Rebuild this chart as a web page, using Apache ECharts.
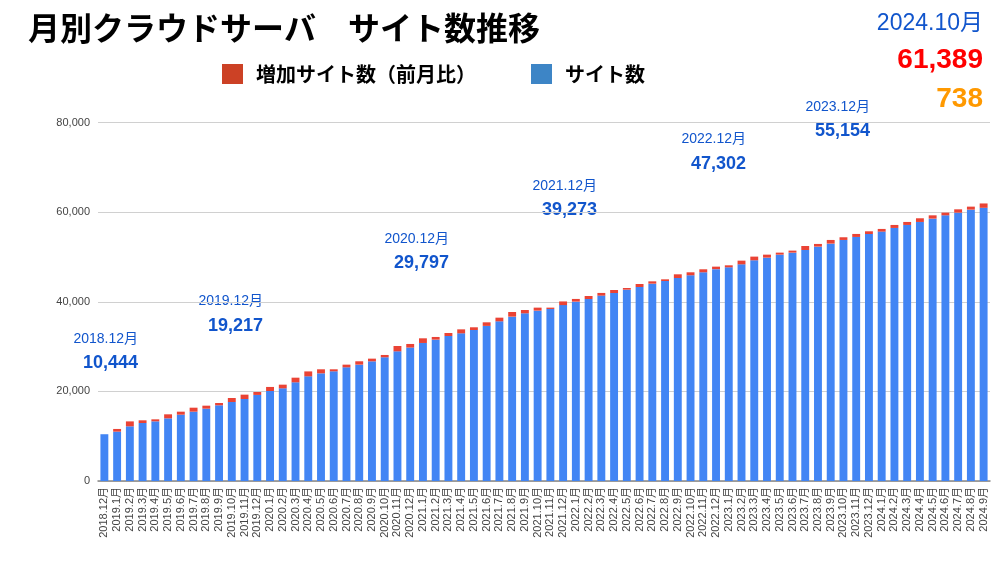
<!DOCTYPE html>
<html>
<head>
<meta charset="utf-8">
<script src="https://cdn.jsdelivr.net/npm/echarts@6/dist/echarts.min.js"></script>
<style>
html,body{margin:0;padding:0;background:#fff;}
#c{width:1007px;height:567px;}
</style>
</head>
<body>
<div id="c"></div>
<script>
const categories = ["2018.12月",
"2019.1月","2019.2月","2019.3月","2019.4月","2019.5月","2019.6月","2019.7月","2019.8月","2019.9月","2019.10月","2019.11月","2019.12月",
"2020.1月","2020.2月","2020.3月","2020.4月","2020.5月","2020.6月","2020.7月","2020.8月","2020.9月","2020.10月","2020.11月","2020.12月",
"2021.1月","2021.2月","2021.3月","2021.4月","2021.5月","2021.6月","2021.7月","2021.8月","2021.9月","2021.10月","2021.11月","2021.12月",
"2022.1月","2022.2月","2022.3月","2022.4月","2022.5月","2022.6月","2022.7月","2022.8月","2022.9月","2022.10月","2022.11月","2022.12月",
"2023.1月","2023.2月","2023.3月","2023.4月","2023.5月","2023.6月","2023.7月","2023.8月","2023.9月","2023.10月","2023.11月","2023.12月",
"2024.1月","2024.2月","2024.3月","2024.4月","2024.5月","2024.6月","2024.7月","2024.8月","2024.9月"];

const siteCount = [10444,
11020,12210,12950,13320,13990,14810,15480,16150,16900,17640,18310,19217,
20100,20690,22030,23370,24040,24490,25380,25980,26720,27620,28950,29797,
30820,31560,32380,32970,33720,34630,35650,36700,37440,38040,38410,39273,
40050,40640,41390,41980,42720,43320,44060,44660,45330,45930,46600,47302,
47710,48380,49280,49870,50540,50990,51580,52330,53000,53820,54490,55154,
55680,56500,57170,57840,58580,59320,59920,60590,61000];

const increase = [0,
600,1100,600,450,900,670,890,670,520,890,970,650,
900,820,1040,1100,900,450,600,750,600,520,1190,800,
1040,600,670,890,600,800,820,1040,740,670,300,820,
600,670,600,670,370,670,520,370,820,670,670,560,
450,820,820,670,450,450,890,600,820,600,670,600,
600,670,670,820,740,600,740,670,970];

const yTicks = [0, 20000, 40000, 60000, 80000];

const titleText = "月別クラウドサーバ　サイト数推移";
const seriesNames = ["増加サイト数（前月比）", "サイト数"];
const latestMonth = "2024.10月";
const latestCount = "61,389";
const latestIncrease = "738";

const yearMarks = ["2018.12月","2019.12月","2020.12月","2021.12月","2022.12月","2023.12月"];
const yearValues = ["10,444","19,217","29,797","39,273","47,302","55,154"];
// annotation placement (pixels): right edge, label y, value y
const annoRight = [138, 263, 449, 597, 746, 870];
const annoLabelY = [340, 302, 240, 187, 140, 108];
const annoValueY = [363, 326, 263, 210, 164, 131];

const FONT = '"Liberation Sans", Arial, "Noto Sans CJK JP", sans-serif';
const JFONT = '"Noto Sans CJK JP", "Liberation Sans", sans-serif';

const graphics = [];
for (let k = 0; k < yearMarks.length; k++) {
  graphics.push({type:'text', right: 1007 - annoRight[k], top: annoLabelY[k] - 8,
    style:{text: yearMarks[k], font: '14px ' + FONT, fill:'#1155cc', textAlign:'right'}});
  graphics.push({type:'text', right: 1007 - annoRight[k], top: annoValueY[k] - 9,
    style:{text: yearValues[k], font: 'bold 18px ' + FONT, fill:'#1155cc', textAlign:'right'}});
}
graphics.push({type:'text', right: 24, top: 12,
  style:{text: latestMonth, font: '23px ' + FONT, fill:'#1155cc'}});
graphics.push({type:'text', right: 24, top: 46,
  style:{text: latestCount, font: 'bold 28px ' + FONT, fill:'#ff0000'}});
graphics.push({type:'text', right: 24, top: 85,
  style:{text: latestIncrease, font: 'bold 28px ' + FONT, fill:'#ff9900'}});

const chart = echarts.init(document.getElementById('c'));
chart.setOption({
  backgroundColor:'#ffffff',
  animation:false,
  title:{text: titleText, left: 23, top: 7,
    textStyle:{fontFamily: JFONT, fontSize: 32, fontWeight: 'bold', color:'#000'}},
  legend:{
    left: 217, top: 59, itemWidth: 21, itemHeight: 20, itemGap: 55,
    textStyle:{fontFamily: JFONT, fontSize: 20, fontWeight:'bold', color:'#000', padding:[0,0,0,8]},
    data:[
      {name: seriesNames[0], icon:'rect', itemStyle:{color:'#cc4125'}},
      {name: seriesNames[1], icon:'rect', itemStyle:{color:'#3d85c6'}}
    ]
  },
  graphic: graphics,
  grid:{left: 98, right: 17, top: 122.7, bottom: 86, containLabel:false},
  xAxis:{
    type:'category', data: categories,
    axisTick:{show:false},
    axisLine:{lineStyle:{color:'#888', width:1.5}},
    axisLabel:{rotate:90, interval:0, fontSize:11, color:'#444', fontFamily: FONT, margin:6}
  },
  yAxis:{
    type:'value', min: yTicks[0], max: yTicks[yTicks.length-1], interval: 20000,
    axisLine:{show:false}, axisTick:{show:false},
    splitLine:{lineStyle:{color:'#d0d0d0'}},
    axisLabel:{fontSize:11, color:'#444', fontFamily: FONT, margin:8,
      formatter: v => v.toLocaleString('en-US')}
  },
  series:[
    {name: seriesNames[1], type:'bar', stack:'s', data: siteCount, barCategoryGap:'38%',
      itemStyle:{color:'#4285f4'}},
    {name: seriesNames[0], type:'bar', stack:'s', data: increase, barCategoryGap:'38%',
      itemStyle:{color:'#ea4335'}}
  ]
});
</script>
</body>
</html>
